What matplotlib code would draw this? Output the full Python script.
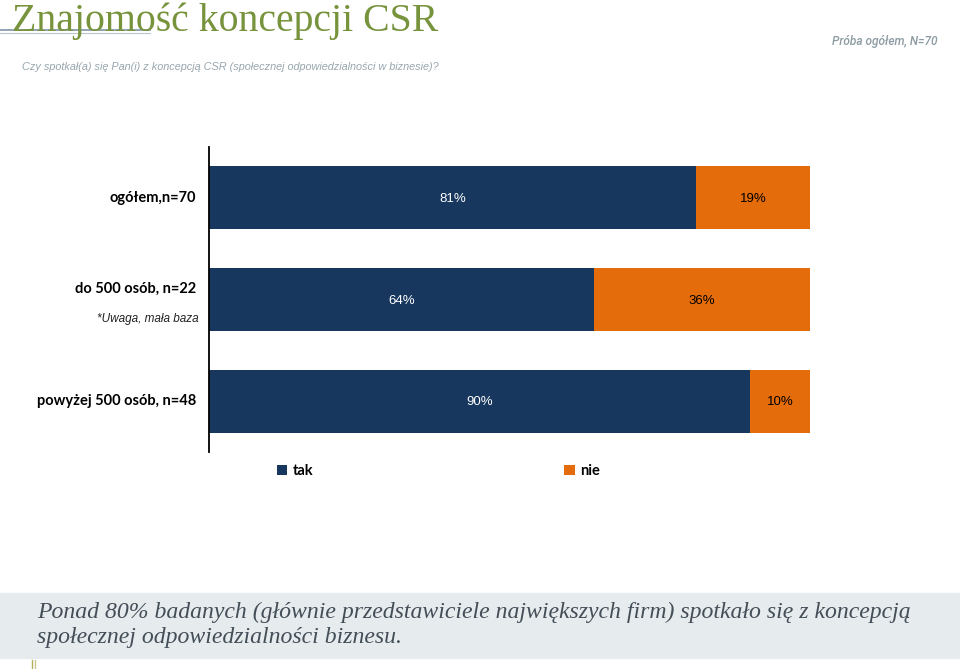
import matplotlib.pyplot as plt
from matplotlib.patches import Rectangle
from matplotlib.lines import Line2D

# dane z wykresu
kategorie = ['ogółem,n=70', 'do 500 osób, n=22', 'powyżej 500 osób, n=48']
tak = [81, 64, 90]
nie = [19, 36, 10]
serie = ['tak', 'nie']

kolor_tak = '#17375E'
kolor_nie = '#E46C0A'

fig = plt.figure(figsize=(9.6, 6.69), dpi=100)

# naglowek
fig.text(12 / 960, 1 - 21 / 669, 'Znajomość koncepcji CSR', family='Liberation Serif',
         fontsize=28.6, color='#77933C', va='center', ha='left')
fig.add_artist(Line2D([0, 150 / 960], [1 - 30 / 669] * 2, color='#7f93a8', lw=1.2))
fig.add_artist(Line2D([0, 150 / 960], [1 - 33 / 669] * 2, color='#b8c4cf', lw=0.8))
fig.text(22 / 960, 1 - 67 / 669,
         'Czy spotkał(a) się Pan(i) z koncepcją CSR (społecznej odpowiedzialności w biznesie)?',
         family='Liberation Sans', style='italic', fontsize=7.8, color='#98a6ae',
         va='center', ha='left')
fig.text(937 / 960, 1 - 42 / 669, 'Próba ogółem, N=70', family='Roboto', style='italic',
         fontweight='medium', fontsize=8.6, color='#8c9ba3', va='center', ha='right')

# wykres
ax = fig.add_axes([209 / 960, 1 - 452 / 669, 601 / 960, 305 / 669])
y = list(range(len(kategorie)))
b1 = ax.barh(y, tak, height=0.62, color=kolor_tak, label=serie[0])
b2 = ax.barh(y, nie, left=tak, height=0.62, color=kolor_nie, label=serie[1])
for i in y:
    ax.text(tak[i] / 2, i + 0.01, f'{tak[i]}%', ha='center', va='center', color='white',
            family='Liberation Sans', fontsize=9.5)
    ax.text(tak[i] + nie[i] / 2, i + 0.01, f'{nie[i]}%', ha='center', va='center',
            color='black', family='Liberation Sans', fontsize=9.5)

ax.set_xlim(0, 100)
ax.set_ylim(2.5, -0.5)
ax.set_xticks([])
ax.set_yticks([])
for s in ['top', 'right', 'bottom']:
    ax.spines[s].set_visible(False)
ax.spines['left'].set_linewidth(1.3)

for i, k in enumerate(kategorie):
    dy = -0.11 if i == 1 else 0
    ax.text(-0.022, i + dy, k, transform=ax.get_yaxis_transform(),
            ha='right', va='center', family='Lato', fontweight='bold', fontsize=10.5)
ax.text(-0.018, 1.19, '*Uwaga, mała baza', transform=ax.get_yaxis_transform(),
        ha='right', va='center', family='Liberation Sans', style='italic', fontsize=8.5,
        color='#222222')

ax.legend(handles=[b1, b2], loc='center left', bbox_to_anchor=(0.113, -0.062),
          ncol=2, frameon=False, handlelength=0.7, handleheight=0.7, handletextpad=0.4,
          columnspacing=17.2, borderaxespad=0, borderpad=0,
          prop={'family': 'Lato', 'weight': 'bold', 'size': 10.5})

# podsumowanie na dole
fig.add_artist(Rectangle((0, 1 - 658 / 669), 1, 65 / 669, transform=fig.transFigure,
                         color='#E6EBEE', zorder=0))
fig.text(37 / 960, 1 - 612 / 669,
         'Ponad 80% badanych (głównie przedstawiciele największych firm) spotkało się z koncepcją',
         family='Liberation Serif', style='italic', fontsize=17.1, color='#434e57',
         va='center', ha='left')
fig.text(37 / 960, 1 - 638 / 669, 'społecznej odpowiedzialności biznesu.',
         family='Liberation Serif', style='italic', fontsize=17.1, color='#434e57',
         va='center', ha='left')
fig.add_artist(Line2D([32 / 960] * 2, [0, 9 / 669], color='#b5b060', lw=1))
fig.add_artist(Line2D([35 / 960] * 2, [0, 9 / 669], color='#c9c890', lw=1))

fig.savefig('out.png', dpi=100)
